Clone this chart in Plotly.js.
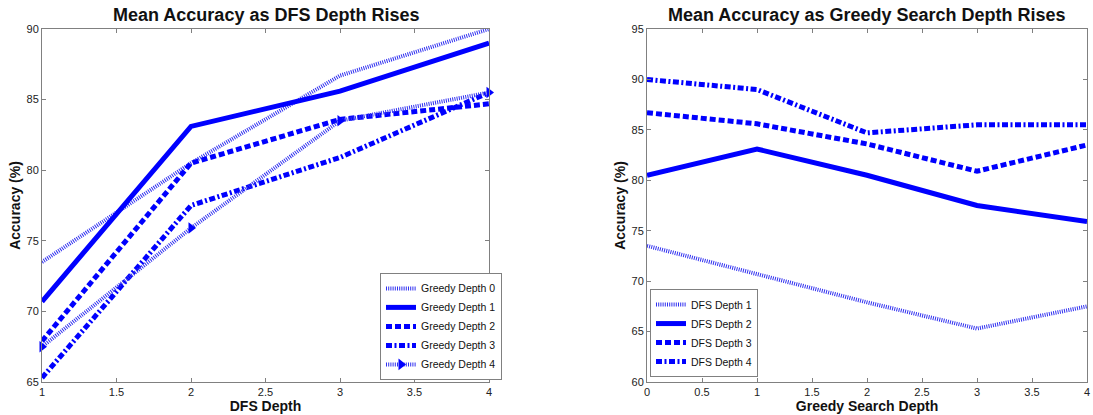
<!DOCTYPE html>
<html>
<head>
<meta charset="utf-8">
<script src="https://cdn.plot.ly/plotly-3.0.1.min.js"></script>
<style>
  html, body { margin: 0; padding: 0; background: #fff; }
  #chart { width: 1093px; height: 415px; }
</style>
</head>
<body>
<div id="chart"></div>
<script>
// DFS depths (left x) and greedy depths (right x)
const dfsDepths = [1, 2, 3, 4];
const greedyDepths = [0, 1, 2, 3, 4];

// Mean accuracy (%) for each greedy depth, indexed by DFS depth 1..4
const greedy0 = [73.5, 80.5, 86.7, 90.0];
const greedy1 = [70.7, 83.1, 85.6, 89.0];
const greedy2 = [67.9, 80.5, 83.6, 84.7];
const greedy3 = [65.3, 77.5, 80.9, 85.5];
const greedy4 = [67.5, 75.9, 83.5, 85.5];

const leftNames = ["Greedy Depth 0", "Greedy Depth 1", "Greedy Depth 2", "Greedy Depth 3", "Greedy Depth 4"];
const rightNames = ["DFS Depth 1", "DFS Depth 2", "DFS Depth 3", "DFS Depth 4"];

const leftTitle = "Mean Accuracy as DFS Depth Rises";
const rightTitle = "Mean Accuracy as Greedy Search Depth Rises";

const blue = "#0000ff";
const hatchBlue = "#3030f0";
const styles = [
  {color: hatchBlue, width: 4, dash: "1px,1.2px"},
  {color: blue, width: 5, dash: "solid"},
  {color: blue, width: 5, dash: "6px,3px"},
  {color: blue, width: 5, dash: "6px,2.5px,2px,2.5px"},
  {color: hatchBlue, width: 4, dash: "1px,1.2px"}
];

const allGreedy = [greedy0, greedy1, greedy2, greedy3, greedy4];
const traces = [];

allGreedy.forEach((vals, i) => {
  const t = {
    x: dfsDepths, y: vals, name: leftNames[i], type: "scatter",
    mode: i === 4 ? "lines+markers" : "lines",
    line: {color: styles[i].color, width: styles[i].width, dash: styles[i].dash},
    xaxis: "x", yaxis: "y", legend: "legend", cliponaxis: false
  };
  if (i === 4) t.marker = {symbol: "triangle-right", size: 10, color: blue};
  traces.push(t);
});

// right plot: DFS depth k series across greedy depths (same values, transposed)
dfsDepths.forEach((d, k) => {
  const s = styles[k];
  traces.push({
    x: greedyDepths, y: allGreedy.map(g => g[k]), name: rightNames[k], type: "scatter",
    mode: "lines",
    line: {color: s.color, width: s.width, dash: s.dash},
    xaxis: "x2", yaxis: "y2", legend: "legend2"
  });
});

const axisCommon = {
  showline: true, linecolor: "#808080", linewidth: 1, mirror: "ticks",
  ticks: "inside", ticklen: 4, tickcolor: "#808080", showgrid: false, zeroline: false,
  tickfont: {family: "Liberation Sans, Arial, sans-serif", size: 11, color: "#222"},
  ticklabeloverflow: "allow",
  fixedrange: true
};
const titleFont = {family: "Liberation Sans, Arial, sans-serif", size: 14, color: "#111", weight: "bold"};
const legendFont = {family: "Liberation Sans, Arial, sans-serif", size: 10.5, color: "#111"};
const rightEnd = 1087;

const layout = {
  width: 1093, height: 415,
  margin: {l: 0, r: 0, t: 29, b: 33},
  paper_bgcolor: "#fff", plot_bgcolor: "#fff",
  font: {family: "Liberation Sans, Arial, sans-serif", color: "#111"},
  xaxis: Object.assign({}, axisCommon, {
    domain: [42/1093, 489/1093], range: [1, 4.00001], tick0: 1, dtick: 0.5, anchor: "y",
    title: {text: "<b>DFS Depth</b>", font: titleFont, standoff: 0}
  }),
  yaxis: Object.assign({}, axisCommon, {
    domain: [0, 1], range: [65, 90.00001], dtick: 5, anchor: "x",
    title: {text: "<b>Accuracy (%)</b>", font: titleFont, standoff: 2}
  }),
  xaxis2: Object.assign({}, axisCommon, {
    domain: [647/1093, rightEnd/1093], range: [0, 4.00001], tick0: 0, dtick: 0.5, anchor: "y2",
    title: {text: "<b>Greedy Search Depth</b>", font: titleFont, standoff: 0}
  }),
  yaxis2: Object.assign({}, axisCommon, {
    domain: [0, 1], range: [60, 95.00001], dtick: 5, anchor: "x2",
    title: {text: "<b>Accuracy (%)</b>", font: titleFont, standoff: 2}
  }),
  showlegend: true,
  legend: {
    x: 380/1093, y: 0.006, xanchor: "left", yanchor: "bottom",
    bgcolor: "#fff", bordercolor: "#808080", borderwidth: 1,
    font: legendFont, tracegroupgap: 0, itemwidth: 30
  },
  legend2: {
    x: 650/1093, y: 0.014, xanchor: "left", yanchor: "bottom",
    bgcolor: "#fff", bordercolor: "#808080", borderwidth: 1,
    font: legendFont, tracegroupgap: 0, itemwidth: 30
  },
  annotations: [
    {text: "<b>" + leftTitle + "</b>", xref: "paper", yref: "paper",
     x: (42 + 489) / 2 / 1093, y: 1, xanchor: "center", yanchor: "bottom", yshift: 2,
     showarrow: false, font: {family: "Liberation Sans, Arial, sans-serif", size: 18, color: "#111"}},
    {text: "<b>" + rightTitle + "</b>", xref: "paper", yref: "paper",
     x: (647 + rightEnd) / 2 / 1093, y: 1, xanchor: "center", yanchor: "bottom", yshift: 2,
     showarrow: false, font: {family: "Liberation Sans, Arial, sans-serif", size: 18, color: "#111"}}
  ]
};

Plotly.newPlot("chart", traces, layout, {displayModeBar: false, staticPlot: true});
</script>
</body>
</html>
